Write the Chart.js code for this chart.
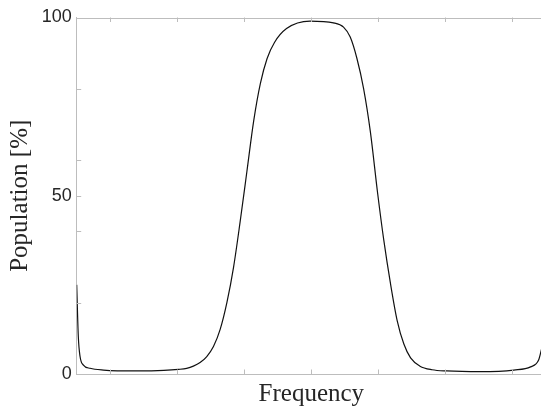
<!DOCTYPE html>
<html>
<head>
<meta charset="utf-8">
<script src="https://cdn.jsdelivr.net/npm/chart.js@4.4.1/dist/chart.umd.min.js"></script>
<style>
html,body{margin:0;padding:0;background:#fff;overflow:hidden;width:541px;height:409px;}
canvas{display:block;}
</style>
</head>
<body>
<canvas id="c" width="546" height="409"></canvas>
<script>
// Frequency positions (arbitrary units) and population values [%]
const freq = [0, 0.024, 0.05, 0.1, 0.2, 0.4, 0.9, 1.3, 1.52, 1.64, 1.74, 1.84, 1.94, 2.04, 2.14, 2.24, 2.34, 2.44, 2.54, 2.64, 2.74, 2.84, 2.95, 3.13, 3.48, 3.83, 3.98, 4.08, 4.18, 4.28, 4.38, 4.49, 4.58, 4.68, 4.78, 4.88, 4.98, 5.12, 5.3, 5.52, 6.02, 6.52, 6.77, 6.89, 6.93, 6.97];
const population = [25, 10.5, 4.9, 2.5, 1.6, 1.1, 0.85, 1.0, 1.3, 1.6, 2.2, 3.2, 4.9, 7.7, 12.5, 20, 30, 43, 57, 71, 81.5, 88.5, 93, 96.9, 99, 98.5, 97.3, 94.5, 88.5, 80, 68, 50.5, 37.6, 25.4, 15, 8.4, 4.5, 2.2, 1.2, 0.85, 0.65, 1.1, 2.0, 3.9, 6.7, 10];
const xTickValues = [0.5, 1.5, 2.5, 3.5, 4.5, 5.5, 6.5];
const yTickValues = [0, 20, 40, 50, 60, 80, 100];
const yTickLabels = ['0', '', '', '50', '', '', '100'];
const xTitle = 'Frequency';
const yTitle = 'Population [%]';

const AXIS_COLOR = '#bdbdbd';
const TEXT_COLOR = '#262626';

const innerTicks = {
  id: 'innerTicks',
  afterDatasetsDraw(chart) {
    const {ctx, chartArea: a, scales: {x, y}} = chart;
    ctx.save();
    ctx.strokeStyle = AXIS_COLOR;
    ctx.lineWidth = 1;
    ctx.beginPath();
    ctx.moveTo(a.left, Math.round(a.top) + 0.5);
    ctx.lineTo(a.right, Math.round(a.top) + 0.5);
    const L = 4.5;
    x.ticks.forEach(t => {
      const px = Math.round(x.getPixelForValue(t.value)) + 0.5;
      ctx.moveTo(px, a.bottom);
      ctx.lineTo(px, a.bottom - L);
      ctx.moveTo(px, a.top);
      ctx.lineTo(px, a.top + L);
    });
    y.ticks.forEach(t => {
      const py = Math.round(y.getPixelForValue(t.value)) + 0.5;
      ctx.moveTo(a.left, py);
      ctx.lineTo(a.left + L, py);
      ctx.moveTo(a.right, py);
      ctx.lineTo(a.right - L, py);
    });
    ctx.stroke();
    ctx.restore();
  }
};

new Chart(document.getElementById('c'), {
  type: 'line',
  data: {
    datasets: [{
      data: freq.map((f, i) => ({x: f, y: population[i]})),
      borderColor: '#111',
      borderWidth: 1.2,
      pointRadius: 0,
      fill: false,
      cubicInterpolationMode: 'monotone'
    }]
  },
  options: {
    responsive: false,
    animation: false,
    layout: {padding: {top: 17.5, right: 0, left: 0, bottom: 0}},
    plugins: {legend: {display: false}, tooltip: {enabled: false}},
    scales: {
      x: {
        type: 'linear', min: 0, max: 7,
        afterBuildTicks: ax => { ax.ticks = xTickValues.map(v => ({value: v})); },
        afterFit: ax => { ax.height = 35; },
        ticks: {display: false},
        grid: {display: false, drawTicks: false},
        border: {display: true, color: AXIS_COLOR, width: 1},
        title: {display: true, text: xTitle, color: TEXT_COLOR,
          font: {family: '"Liberation Serif", "DejaVu Serif", serif', size: 25}, padding: {top: 0, bottom: 0}}
      },
      y: {
        type: 'linear', min: 0, max: 100,
        afterBuildTicks: ax => { ax.ticks = yTickValues.map(v => ({value: v})); },
        afterFit: ax => { ax.width = 76.7; },
        ticks: {
          color: TEXT_COLOR, padding: 5,
          font: {family: '"Liberation Sans", Arial, Helvetica, sans-serif', size: 18},
          callback: (v) => { const i = yTickValues.indexOf(v); return i >= 0 ? yTickLabels[i] : ''; }
        },
        grid: {display: false, drawTicks: false},
        border: {display: true, color: AXIS_COLOR, width: 1},
        title: {display: true, text: yTitle, color: TEXT_COLOR,
          font: {family: '"Liberation Serif", "DejaVu Serif", serif', size: 25}, padding: {top: 5, bottom: 0}}
      }
    }
  },
  plugins: [innerTicks]
});
</script>
</body>
</html>
